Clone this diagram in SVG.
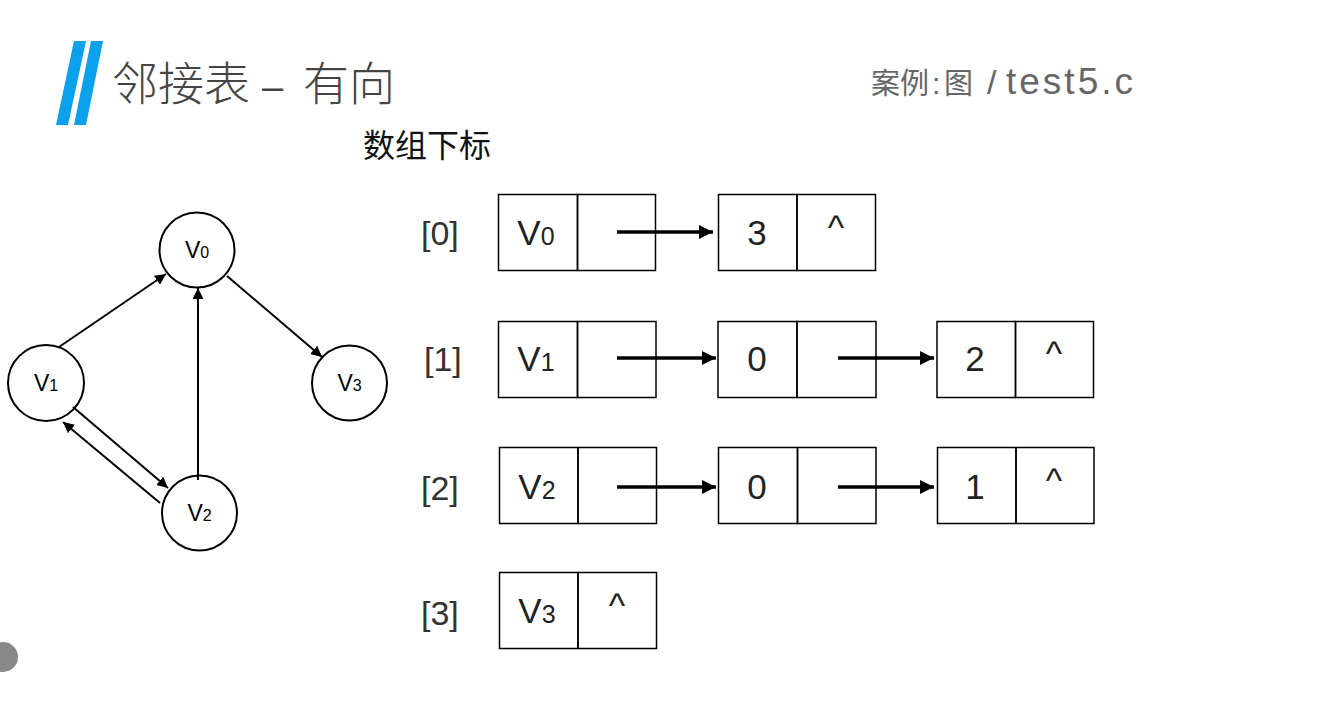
<svg xmlns="http://www.w3.org/2000/svg" width="1330" height="724" viewBox="0 0 1330 724">
<style>
.cjk{font-family:"Noto Sans CJK SC","Liberation Sans",sans-serif}
.lat{font-family:"Liberation Sans",Arial,sans-serif}
.node circle{fill:#fff;stroke:#000;stroke-width:2}
.node text{font-family:"Liberation Sans",Arial,sans-serif;font-size:23px;fill:#000;text-anchor:middle}
.cell{fill:none;stroke:#000;stroke-width:1.5}
.cellt{font-family:"Liberation Sans",Arial,sans-serif;font-size:35px;fill:#222;text-anchor:middle}
.idx{font-family:"Liberation Sans",Arial,sans-serif;font-size:34px;fill:#333}
.edge{stroke:#000;stroke-width:2;fill:none;marker-end:url(#ah)}
.ptr{stroke:#000;stroke-width:3.5;fill:none;marker-end:url(#ah2)}
</style>
<defs>
<marker id="ah" viewBox="0 0 10 10" refX="10" refY="5" markerWidth="5.5" markerHeight="5.5" orient="auto" markerUnits="strokeWidth"><path d="M0,0 L10,5 L0,10 Z" fill="#000"/></marker>
<marker id="ah2" viewBox="0 0 10 10" refX="10" refY="5" markerWidth="4.5" markerHeight="4" orient="auto" markerUnits="strokeWidth"><path d="M0,0 L10,5 L0,10 Z" fill="#000"/></marker>
</defs>
<rect width="1330" height="724" fill="#fff"/>
<g id="header">
<polygon points="74,41 86,41 68,125 56,125" fill="#0aa0ec"/>
<polygon points="91,41 103,41 86,125 74,125" fill="#0aa0ec"/>
<text y="100" class="cjk" font-size="46" font-weight="300" fill="#444"><tspan x="112">邻接表</tspan><tspan x="262" class="lat" font-size="38">–</tspan><tspan x="303">有向</tspan></text>
<text y="94" class="cjk" font-size="29" fill="#666"><tspan x="871">案例</tspan><tspan x="932" class="lat" font-size="30">:</tspan><tspan x="944">图</tspan><tspan x="987" class="lat" font-size="34">/</tspan><tspan x="1006" class="lat" font-size="37" letter-spacing="3">test5.c</tspan></text>
<text x="363" y="157" class="cjk" font-size="32" fill="#111">数组下标</text>
<circle cx="3" cy="657" r="15" fill="#888"/>
</g>
<g id="node-v0" class="node"><circle cx="197" cy="250" r="37.5"/><text x="197" y="258">V<tspan font-size="16">0</tspan></text></g>
<g id="node-v1" class="node"><circle cx="46" cy="383" r="38"/><text x="46" y="391">V<tspan font-size="16">1</tspan></text></g>
<g id="node-v2" class="node"><circle cx="199.5" cy="513" r="37.5"/><text x="199.5" y="521">V<tspan font-size="16">2</tspan></text></g>
<g id="node-v3" class="node"><circle cx="349.5" cy="383" r="37.5"/><text x="349.5" y="391">V<tspan font-size="16">3</tspan></text></g>
<g id="row0">
<text class="idx" x="421" y="245">[0]</text>
<rect class="cell" x="498.5" y="194.5" width="79" height="76"/><rect class="cell" x="577.5" y="194.5" width="78" height="76"/>
<text class="cellt" x="536" y="245">V<tspan font-size="25">0</tspan></text>
<rect class="cell" x="718.5" y="194.5" width="78.5" height="76"/><rect class="cell" x="797" y="194.5" width="78.5" height="76"/>
<text class="cellt" x="757" y="245">3</text><text class="cellt" x="836" y="240" font-size="26">^</text>
</g>
<g id="row1">
<text class="idx" x="424" y="371">[1]</text>
<rect class="cell" x="498.5" y="321.5" width="79" height="76"/><rect class="cell" x="577.5" y="321.5" width="78.5" height="76"/>
<text class="cellt" x="536" y="371">V<tspan font-size="25">1</tspan></text>
<rect class="cell" x="718" y="321.5" width="79" height="76"/><rect class="cell" x="797" y="321.5" width="79" height="76"/>
<text class="cellt" x="757" y="371">0</text>
<rect class="cell" x="937" y="321.5" width="78.5" height="76"/><rect class="cell" x="1015.5" y="321.5" width="78" height="76"/>
<text class="cellt" x="975" y="371">2</text><text class="cellt" x="1054" y="366" font-size="26">^</text>
</g>
<g id="row2">
<text class="idx" x="421" y="500">[2]</text>
<rect class="cell" x="499.5" y="447.5" width="78.5" height="76"/><rect class="cell" x="578" y="447.5" width="78.5" height="76"/>
<text class="cellt" x="537" y="499">V<tspan font-size="25">2</tspan></text>
<rect class="cell" x="718.5" y="447.5" width="79" height="76"/><rect class="cell" x="797.5" y="447.5" width="78.5" height="76"/>
<text class="cellt" x="757" y="499">0</text>
<rect class="cell" x="937.5" y="447.5" width="78.5" height="76"/><rect class="cell" x="1016" y="447.5" width="78" height="76"/>
<text class="cellt" x="975" y="499">1</text><text class="cellt" x="1054" y="493" font-size="26">^</text>
</g>
<g id="row3">
<text class="idx" x="421" y="625">[3]</text>
<rect class="cell" x="499.5" y="572.5" width="78.5" height="76"/><rect class="cell" x="578" y="572.5" width="78.5" height="76"/>
<text class="cellt" x="537" y="623">V<tspan font-size="25">3</tspan></text>
<text class="cellt" x="617" y="618" font-size="26">^</text>
</g>
<g id="connectors">
<line class="edge" x1="59" y1="347" x2="166" y2="274"/>
<line class="edge" x1="227" y1="276" x2="322" y2="357"/>
<line class="edge" x1="198" y1="480" x2="198" y2="288"/>
<line class="edge" x1="73" y1="407" x2="168" y2="488"/>
<line class="edge" x1="160" y1="503" x2="63" y2="422"/>
<line class="ptr" x1="617" y1="232" x2="713" y2="232"/>
<line class="ptr" x1="617" y1="358" x2="716" y2="358"/>
<line class="ptr" x1="838" y1="358" x2="934" y2="358"/>
<line class="ptr" x1="617" y1="487" x2="716" y2="487"/>
<line class="ptr" x1="838" y1="487" x2="934" y2="487"/>
</g>
</svg>
